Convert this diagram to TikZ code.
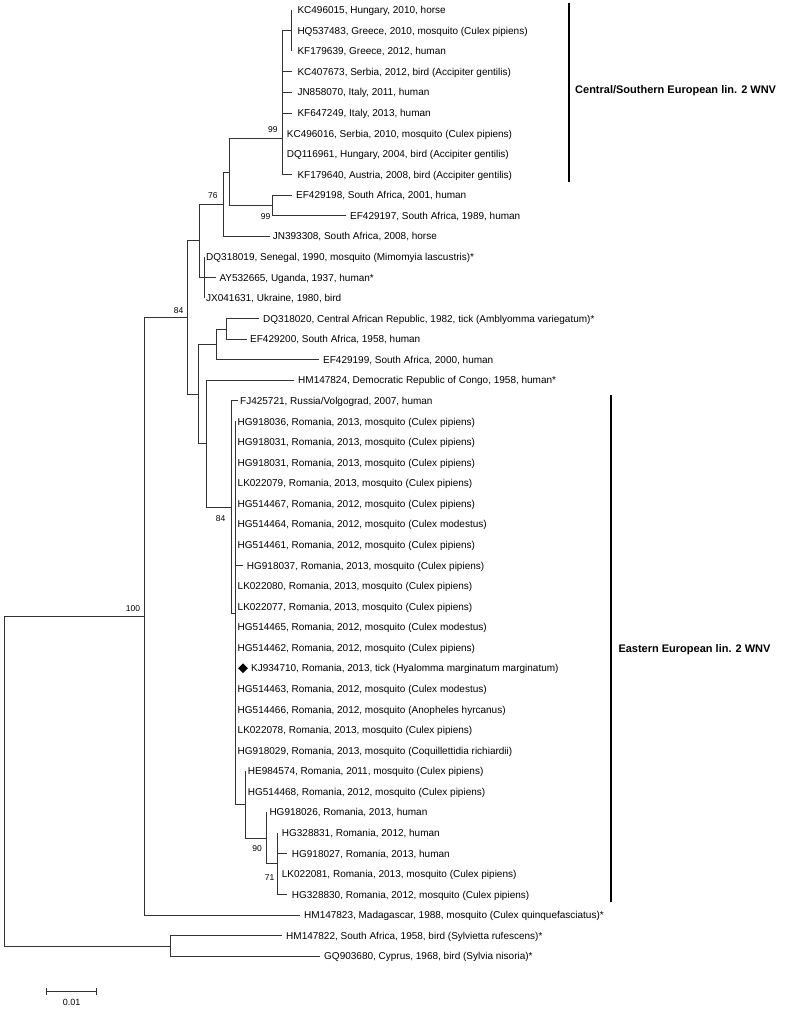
\documentclass[tikz,border=0pt]{standalone}
\usepackage{fontspec}
\setmainfont{Liberation Sans}
\usetikzlibrary{shapes.geometric}
\newcommand\leafrow[5]{\coordinate (t#1) at (#2,#4); \node[leaf] (l#1) at (#3,#4) {#5};}
\begin{document}
\begin{tikzpicture}[x=1pt,y=-1pt,
  br/.style={draw=black!80, line width=0.8pt},
  leaf/.style={anchor=base west, inner sep=0pt, yshift=-3.6pt, font=\fontsize{10}{12}\selectfont},
  boot/.style={inner sep=0pt, font=\fontsize{8.5}{10}\selectfont},
  clade/.style={anchor=west, inner sep=0pt, font=\fontsize{11}{13}\selectfont\bfseries},
  bar/.style={draw=black, line width=2.2pt},
  tipmark/.style={diamond, fill=black, minimum size=10pt, inner sep=0pt}]
\useasboundingbox (0,0) rectangle (788,1009);
% internal nodes
\coordinate (root) at (4,781);
\coordinate (nR) at (144,616.3);
\coordinate (nS) at (170,946);
\coordinate (nE) at (187.3,317.4);
\coordinate (nC) at (199.3,240.8);
\coordinate (nB) at (223,204.1);
\coordinate (nA) at (229.3,171.9);
\coordinate (nP) at (282.7,138.3);
\coordinate (nSub) at (291.7,30.6);
\coordinate (nQ) at (272.7,205.4);
\coordinate (nD) at (204,277.4);
\coordinate (nF) at (198.3,394);
\coordinate (nG) at (216.7,344.3);
\coordinate (nGa) at (226,328.9);
\coordinate (nI) at (206.7,443.6);
\coordinate (nJ) at (231,506.9);
\coordinate (nK) at (235,613);
\coordinate (nL) at (245.7,804.5);
\coordinate (nM) at (266.7,838);
\coordinate (nN) at (277.3,863.7);
% leaves
\leafrow{1}{291.7}{297.3}{10.0}{KC496015, Hungary, 2010, horse}
\leafrow{2}{291.7}{297.3}{30.6}{HQ537483, Greece, 2010, mosquito (Culex pipiens)}
\leafrow{3}{291.7}{297.3}{51.1}{KF179639, Greece, 2012, human}
\leafrow{4}{292}{297.3}{71.7}{KC407673, Serbia, 2012, bird (Accipiter gentilis)}
\leafrow{5}{292}{297.3}{92.3}{JN858070, Italy, 2011, human}
\leafrow{6}{292}{297.3}{112.9}{KF647249, Italy, 2013, human}
\leafrow{7}{282.7}{286.7}{133.4}{KC496016, Serbia, 2010, mosquito (Culex pipiens)}
\leafrow{8}{282.7}{286.7}{154.0}{DQ116961, Hungary, 2004, bird (Accipiter gentilis)}
\leafrow{9}{292}{297.3}{174.6}{KF179640, Austria, 2008, bird (Accipiter gentilis)}
\leafrow{10}{291.7}{296}{195.1}{EF429198, South Africa, 2001, human}
\leafrow{11}{346}{350}{215.7}{EF429197, South Africa, 1989, human}
\leafrow{12}{270}{272.7}{236.3}{JN393308, South Africa, 2008, horse}
\leafrow{13}{204}{206}{256.8}{DQ318019, Senegal, 1990, mosquito (Mimomyia lascustris)*}
\leafrow{14}{216}{219.3}{277.4}{AY532665, Uganda, 1937, human*}
\leafrow{15}{204}{206}{298.0}{JX041631, Ukraine, 1980, bird}
\leafrow{16}{259}{263}{318.6}{DQ318020, Central African Republic, 1982, tick (Amblyomma variegatum)*}
\leafrow{17}{246.7}{250}{339.1}{EF429200, South Africa, 1958, human}
\leafrow{18}{319}{323}{359.7}{EF429199, South Africa, 2000, human}
\leafrow{19}{294}{298}{380.3}{HM147824, Democratic Republic of Congo, 1958, human*}
\leafrow{20}{237.7}{240}{400.8}{FJ425721, Russia/Volgograd, 2007, human}
\leafrow{21}{235}{237.5}{421.4}{HG918036, Romania, 2013, mosquito (Culex pipiens)}
\leafrow{22}{235}{237.5}{442.0}{HG918031, Romania, 2013, mosquito (Culex pipiens)}
\leafrow{23}{235}{237.5}{462.5}{HG918031, Romania, 2013, mosquito (Culex pipiens)}
\leafrow{24}{235}{237.5}{483.1}{LK022079, Romania, 2013, mosquito (Culex pipiens)}
\leafrow{25}{235}{237.5}{503.7}{HG514467, Romania, 2012, mosquito (Culex pipiens)}
\leafrow{26}{235}{237.5}{524.3}{HG514464, Romania, 2012, mosquito (Culex modestus)}
\leafrow{27}{235}{237.5}{544.8}{HG514461, Romania, 2012, mosquito (Culex pipiens)}
\leafrow{28}{243.3}{246.7}{565.4}{HG918037, Romania, 2013, mosquito (Culex pipiens)}
\leafrow{29}{235}{237.5}{586.0}{LK022080, Romania, 2013, mosquito (Culex pipiens)}
\leafrow{30}{235}{237.5}{606.5}{LK022077, Romania, 2013, mosquito (Culex pipiens)}
\leafrow{31}{235}{237.5}{627.1}{HG514465, Romania, 2012, mosquito (Culex modestus)}
\leafrow{32}{235}{237.5}{647.7}{HG514462, Romania, 2012, mosquito (Culex pipiens)}
\leafrow{33}{235}{251}{668.2}{KJ934710, Romania, 2013, tick (Hyalomma marginatum marginatum)}
\leafrow{34}{235}{237.5}{688.8}{HG514463, Romania, 2012, mosquito (Culex modestus)}
\leafrow{35}{235}{237.5}{709.4}{HG514466, Romania, 2012, mosquito (Anopheles hyrcanus)}
\leafrow{36}{235}{237.5}{730.0}{LK022078, Romania, 2013, mosquito (Culex pipiens)}
\leafrow{37}{235}{237.5}{750.5}{HG918029, Romania, 2013, mosquito (Coquillettidia richiardii)}
\leafrow{38}{245.7}{247.7}{771.1}{HE984574, Romania, 2011, mosquito (Culex pipiens)}
\leafrow{39}{245.7}{247.7}{791.7}{HG514468, Romania, 2012, mosquito (Culex pipiens)}
\leafrow{40}{266.7}{269.3}{812.2}{HG918026, Romania, 2013, human}
\leafrow{41}{277.3}{281.7}{832.8}{HG328831, Romania, 2012, human}
\leafrow{42}{287.3}{291.7}{853.4}{HG918027, Romania, 2013, human}
\leafrow{43}{277.3}{281.7}{873.9}{LK022081, Romania, 2013, mosquito (Culex pipiens)}
\leafrow{44}{287.3}{291.7}{894.5}{HG328830, Romania, 2012, mosquito (Culex pipiens)}
\leafrow{45}{300}{304}{915.1}{HM147823, Madagascar, 1988, mosquito (Culex quinquefasciatus)*}
\leafrow{46}{282}{286}{935.7}{HM147822, South Africa, 1958, bird (Sylvietta rufescens)*}
\leafrow{47}{320}{324}{956.2}{GQ903680, Cyprus, 1968, bird (Sylvia nisoria)*}
\node[tipmark] (dm) at (243,668.2) {};
% branches
\draw[br] (root) |- (nR) (root) |- (nS);
\draw[br] (nR) |- (nE) (nR) |- (t45);
\draw[br] (nS) |- (t46) (nS) |- (t47);
\draw[br] (nE) |- (nC) (nE) |- (nF);
\draw[br] (nC) |- (nB) (nC) |- (nD);
\draw[br] (nB) |- (nA) (nB) |- (t12);
\draw[br] (nA) |- (nP) (nA) |- (nQ);
\draw[br] (nP) |- (nSub) (nP) |- (t4) (nP) |- (t5) (nP) |- (t6) (nP) |- (t7) (nP) |- (t8) (nP) |- (t9);
\draw[br] (nSub) |- (t1) (nSub) |- (t2) (nSub) |- (t3);
\draw[br] (nQ) |- (t10) (nQ) |- (t11);
\draw[br] (nD) |- (t13) (nD) |- (t14) (nD) |- (t15);
\draw[br] (nF) |- (nG) (nF) |- (nI);
\draw[br] (nG) |- (nGa) (nG) |- (t18);
\draw[br] (nGa) |- (t16) (nGa) |- (t17);
\draw[br] (nI) |- (t19) (nI) |- (nJ);
\draw[br] (nJ) |- (t20) (nJ) |- (nK);
\foreach \k in {21,...,37} {\draw[br] (nK) |- (t\k);}
\draw[br] (nK) |- (nL);
\draw[br] (nL) |- (t38) (nL) |- (t39) (nL) |- (nM);
\draw[br] (nM) |- (t40) (nM) |- (nN);
\draw[br] (nN) |- (t41) (nN) |- (t42) (nN) |- (t43) (nN) |- (t44);
% bootstrap values
\node[boot] (b1) at (272.8,130) {99};
\node[boot] (b2) at (265.5,216.3) {99};
\node[boot] (b3) at (212.8,196) {76};
\node[boot] (b4) at (178.7,310.3) {84};
\node[boot] (b5) at (220.7,518.3) {84};
\node[boot] (b6) at (257,849) {90};
\node[boot] (b7) at (269.5,878) {71};
\node[boot] (b8) at (133,609) {100};
% clade bars
\coordinate (ca) at (569,3.3); \coordinate (cb) at (569,181.7);
\draw[bar] (ca) -- (cb);
\node[clade] (cl1) at (575,91) {Central/Southern European lin. 2 WNV};
\coordinate (ea) at (611,395); \coordinate (eb) at (611,902);
\draw[bar] (ea) -- (eb);
\node[clade] (cl2) at (618.3,649.3) {Eastern European lin. 2 WNV};
% scale bar
\coordinate (sa) at (46.7,991.7); \coordinate (sb) at (96.7,991.7);
\draw[br] (sa) -- (sb);
\draw[br] ([yshift=3.3pt]sa) -- ([yshift=-3.3pt]sa);
\draw[br] ([yshift=3.3pt]sb) -- ([yshift=-3.3pt]sb);
\node[inner sep=0pt, font=\fontsize{9}{10}\selectfont] (sl) at (71.7,1002.5) {0.01};
\end{tikzpicture}
\end{document}
